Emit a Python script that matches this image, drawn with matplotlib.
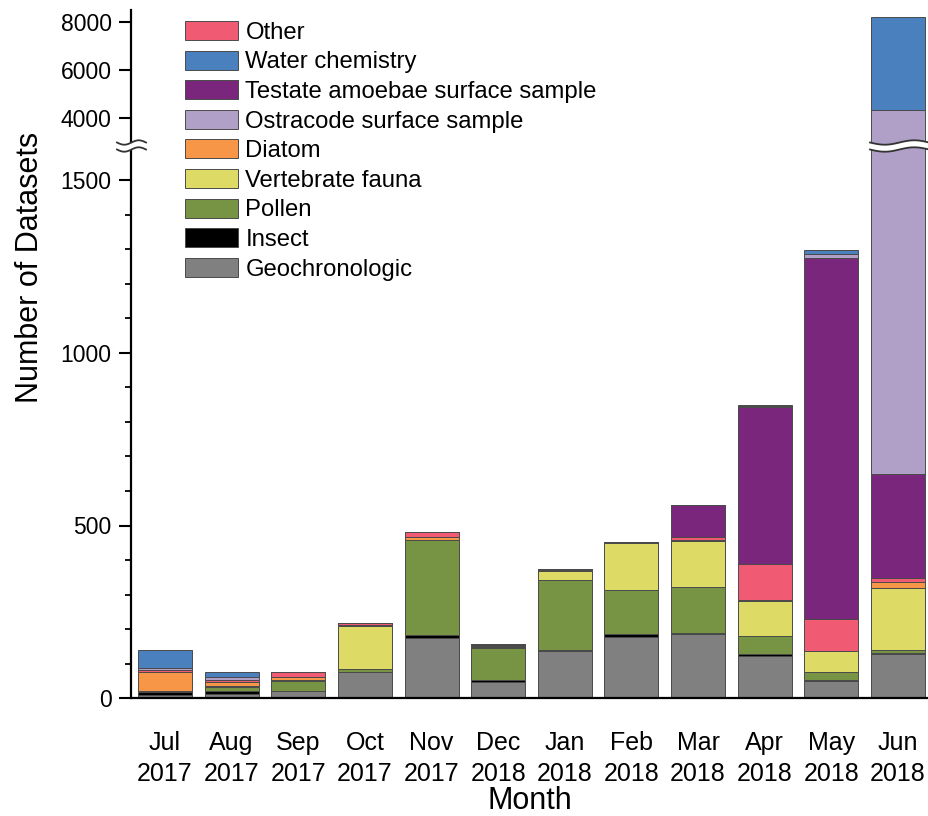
import numpy as np
import matplotlib
matplotlib.use("Agg")
import matplotlib.pyplot as plt
from matplotlib.lines import Line2D
from matplotlib.patches import Patch, Polygon

plt.rcParams['font.family'] = ['Liberation Sans', 'DejaVu Sans']

months = ["Jul\n2017", "Aug\n2017", "Sep\n2017", "Oct\n2017", "Nov\n2017", "Dec\n2018",
          "Jan\n2018", "Feb\n2018", "Mar\n2018", "Apr\n2018", "May\n2018", "Jun\n2018"]

# stacking order bottom -> top
geochronologic = [10, 11, 19, 75, 174, 46, 137, 178, 186, 121, 50, 128]
insect         = [6, 10, 1, 1, 8, 6, 1, 7, 2, 7, 1, 3]
pollen         = [3, 12, 30, 8, 276, 93, 205, 128, 135, 53, 24, 7]
vertebrate     = [2, 2, 1, 124, 1, 3, 24, 135, 133, 101, 61, 182]
diatom         = [53, 11, 10, 5, 9, 3, 3, 1, 2, 2, 0, 17]
other          = [6, 7, 13, 3, 14, 3, 3, 2, 10, 103, 94, 10]
testate        = [1, 0, 2, 2, 0, 2, 0, 1, 90, 457, 1046, 302]
ostracode      = [7, 8, 0, 0, 0, 0, 0, 0, 0, 2, 10, 3695]
water          = [52, 14, 0, 0, 0, 1, 0, 0, 0, 3, 12, 3838]

series = [
    ("Geochronologic", geochronologic, "#808080"),
    ("Insect", insect, "#000000"),
    ("Pollen", pollen, "#779344"),
    ("Vertebrate fauna", vertebrate, "#DDDB66"),
    ("Diatom", diatom, "#F79646"),
    ("Other", other, "#F05A73"),
    ("Testate amoebae surface sample", testate, "#7B267D"),
    ("Ostracode surface sample", ostracode, "#B0A0C8"),
    ("Water chemistry", water, "#4A80BD"),
]
legend_order = ["Other", "Water chemistry", "Testate amoebae surface sample",
                "Ostracode surface sample", "Diatom", "Vertebrate fauna",
                "Pollen", "Insect", "Geochronologic"]

W, H = 929, 816
def fy(y):
    return 1 - y / H

fig = plt.figure(figsize=(W / 100, H / 100), dpi=100)
ybreak = 146
ax_lo = fig.add_axes([131 / W, fy(698), (928 - 131) / W, (698 - ybreak) / H])
ax_hi = fig.add_axes([131 / W, fy(ybreak), (928 - 131) / W, (ybreak - 10) / H])

x = np.arange(len(months))
for ax in (ax_lo, ax_hi):
    bottom = np.zeros(len(months))
    for name, vals, col in series:
        v = np.array(vals, dtype=float)
        ax.bar(x, v, bottom=bottom, width=0.81, color=col,
               edgecolor="#4a4a4a", linewidth=0.7, zorder=2)
        bottom += v
    ax.set_xlim(-0.51, 11.45)
    for s in ("top", "right"):
        ax.spines[s].set_visible(False)
    ax.spines["left"].set_linewidth(1.6)
    ax.tick_params(axis="y", direction="out", length=9, width=1.5,
                   labelsize=16.5, pad=5)
    ax.tick_params(axis="y", which="minor", length=4.5, width=1.3)

ax_lo.set_ylim(0, 1600)
ax_lo.set_yticks([0, 500, 1000, 1500])
ax_lo.set_yticks([v for v in range(100, 1600, 100) if v % 500 != 0], minor=True)
ax_lo.spines["bottom"].set_linewidth(1.6)
ax_lo.set_xticks(x)
ax_lo.set_xticklabels(months, fontsize=18, linespacing=1.35)
ax_lo.tick_params(axis="x", length=0, pad=24)
ax_lo.set_xlabel("Month", fontsize=22, labelpad=0)

ax_hi.set_ylim(2853, 8485)
ax_hi.set_yticks([4000, 6000, 8000])
ax_hi.spines["bottom"].set_visible(False)
ax_hi.set_xticks([])

fig.text(30 / W, fy(267), "Number of Datasets", rotation=90, fontsize=22,
         ha="center", va="center")

# legend
handles = {name: Patch(facecolor=col, edgecolor="#4a4a4a", linewidth=0.7)
           for name, vals, col in series}
fig.legend([handles[n] for n in legend_order], legend_order, loc="upper left",
           bbox_to_anchor=(185 / W, fy(21)), frameon=False, fontsize=17.2,
           handlelength=2.2, handleheight=0.85, handletextpad=0.33,
           labelspacing=0.285, borderpad=0, borderaxespad=0)

# break marks (wavy)
def wave_band(x0, x1, yc, gap=7, amp=2.2):
    xs = np.linspace(x0, x1, 60)
    ph = 2 * np.pi * (xs - x0) / (x1 - x0)
    y_top = yc - gap / 2 + amp * np.sin(ph)
    y_bot = yc + gap / 2 + amp * np.sin(ph)
    pts = np.concatenate([np.column_stack([xs, y_top]),
                          np.column_stack([xs[::-1], y_bot[::-1]])])
    pts_f = np.column_stack([pts[:, 0] / W, 1 - pts[:, 1] / H])
    fig.add_artist(Polygon(pts_f, closed=True, facecolor="white",
                           edgecolor="none", transform=fig.transFigure, zorder=10))
    for yy in (y_top, y_bot):
        fig.add_artist(Line2D(xs / W, 1 - yy / H, color="#333333", lw=1.3,
                              transform=fig.transFigure, zorder=11))

wave_band(117, 146, ybreak)
wave_band(870, 929, ybreak)

fig.savefig("out.png", dpi=100)
